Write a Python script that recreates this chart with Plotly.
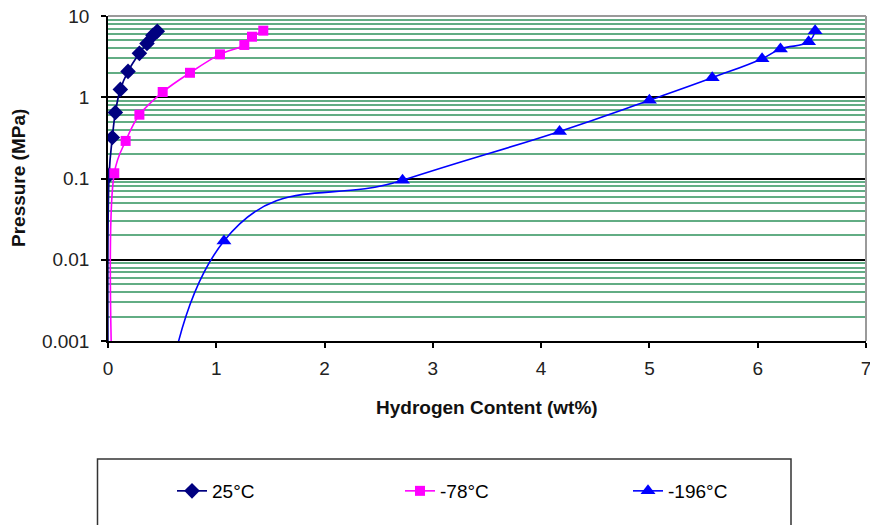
import plotly.graph_objects as go

# ---- data (first point of each series lies below the axis range) ----
x_25 = [0.008, 0.01, 0.04, 0.068, 0.114, 0.185, 0.29, 0.36, 0.415, 0.455]
p_25 = [1e-5, 0.11, 0.32, 0.65, 1.25, 2.08, 3.47, 4.6, 5.8, 6.5]

x_78 = [0.075, 0.058, 0.163, 0.29, 0.505, 0.757, 1.034, 1.259, 1.33, 1.434]
p_78 = [1e-5, 0.116, 0.29, 0.61, 1.16, 2.0, 3.37, 4.4, 5.56, 6.6]

x_196 = [0.5, 1.071, 2.72, 4.17, 5.0, 5.58, 6.04, 6.21, 6.47, 6.53]
p_196 = [1e-9, 0.017, 0.095, 0.38, 0.92, 1.74, 2.98, 3.92, 4.83, 6.6]

series_names = ["25°C", "-78°C", "-196°C"]
y_tickvals = [0.001, 0.01, 0.1, 1, 10]
y_ticktext = ["0.001", "0.01", "0.1", "1", "10"]
x_tickvals = [0, 1, 2, 3, 4, 5, 6, 7]

FONT = "Liberation Sans, Arial, sans-serif"
GREEN = "#62AD84"

W, H = 870, 525
L, R, T, B = 108, 4, 16, 184
pw, ph = W - L - R, H - T - B


def px_to_paper_x(px):
    return (px - L) / pw


def px_to_paper_y(py):
    return (H - B - py) / ph


minor_vals = [m * 10 ** e for e in range(-3, 1) for m in range(2, 10)]

fig = go.Figure()
fig.add_trace(go.Scatter(
    x=x_25, y=p_25, name=series_names[0], mode="lines+markers",
    line=dict(color="#000080", width=1.7, shape="spline", smoothing=1.0),
    marker=dict(symbol="diamond", size=12, color="#000080"),
))
fig.add_trace(go.Scatter(
    x=x_78, y=p_78, name=series_names[1], mode="lines+markers",
    line=dict(color="#FF00FF", width=1.6, shape="spline", smoothing=1.0),
    marker=dict(symbol="square", size=10, color="#FF00FF"),
))
fig.add_trace(go.Scatter(
    x=x_196, y=p_196, name=series_names[2], mode="lines+markers",
    line=dict(color="#0000FF", width=1.6, shape="spline", smoothing=1.3),
    marker=dict(symbol="triangle-up", size=13, color="#0000FF"),
))

fig.update_layout(
    width=W, height=H,
    margin=dict(l=L, r=R, t=T, b=B, autoexpand=False),
    paper_bgcolor="white", plot_bgcolor="white",
    font=dict(family=FONT, size=19, color="black"),
    showlegend=True,
    legend=dict(
        orientation="h",
        x=px_to_paper_x(172), xanchor="left",
        y=px_to_paper_y(491), yanchor="middle",
        font=dict(family=FONT, size=19, color="black"),
        entrywidth=183, entrywidthmode="pixels",
        itemwidth=30,
        bgcolor="rgba(0,0,0,0)",
        borderwidth=0,
        itemclick=False,
    ),
    xaxis=dict(
        range=[0, 7], tickvals=x_tickvals,
        showgrid=False, zeroline=False, automargin=False,
        showline=True, linecolor="black", linewidth=1.5,
        ticks="outside", ticklen=5, tickcolor="black", tickwidth=1.5,
        tickfont=dict(family=FONT, size=19, color="#222"),
        ticklabelstandoff=4,
        ticklabeloverflow="allow",
    ),
    yaxis=dict(
        type="log", range=[-3, 1],
        tickvals=y_tickvals, ticktext=y_ticktext,
        showgrid=True, gridcolor="black", gridwidth=1.5,
        zeroline=False, automargin=False,
        showline=True, linecolor="black", linewidth=1.5,
        ticks="outside", ticklen=5, tickcolor="black", tickwidth=1.5,
        tickfont=dict(family=FONT, size=19, color="#222"),
        ticklabelstandoff=8,
        ticklabeloverflow="allow",
        minor=dict(tickvals=minor_vals, showgrid=True, gridcolor=GREEN,
                   gridwidth=1.9, ticks=""),
    ),
    shapes=[
        # top and right plot-area border (grey)
        dict(type="line", xref="paper", yref="paper", x0=0, x1=1, y0=1, y1=1,
             line=dict(color="#9a9a9a", width=2), layer="above"),
        dict(type="line", xref="paper", yref="paper", x0=1, x1=1, y0=0, y1=1,
             line=dict(color="#9a9a9a", width=2), layer="above"),
        # legend frame
        dict(type="rect", xref="paper", yref="paper",
             x0=px_to_paper_x(97.5), x1=px_to_paper_x(791),
             y0=px_to_paper_y(459), y1=px_to_paper_y(540),
             line=dict(color="#333333", width=1.5), fillcolor="rgba(0,0,0,0)"),
    ],
    annotations=[
        dict(text="Hydrogen Content (wt%)", xref="paper", yref="paper",
             x=px_to_paper_x(487), y=px_to_paper_y(407),
             xanchor="center", yanchor="middle", showarrow=False,
             font=dict(family=FONT, size=19, color="#111", weight="bold")),
        dict(text="Pressure (MPa)", xref="paper", yref="paper",
             x=px_to_paper_x(18), y=px_to_paper_y(178),
             xanchor="center", yanchor="middle", showarrow=False, textangle=-90,
             font=dict(family=FONT, size=19, color="#111", weight="bold")),
    ],
)

fig.write_html("out.html")
